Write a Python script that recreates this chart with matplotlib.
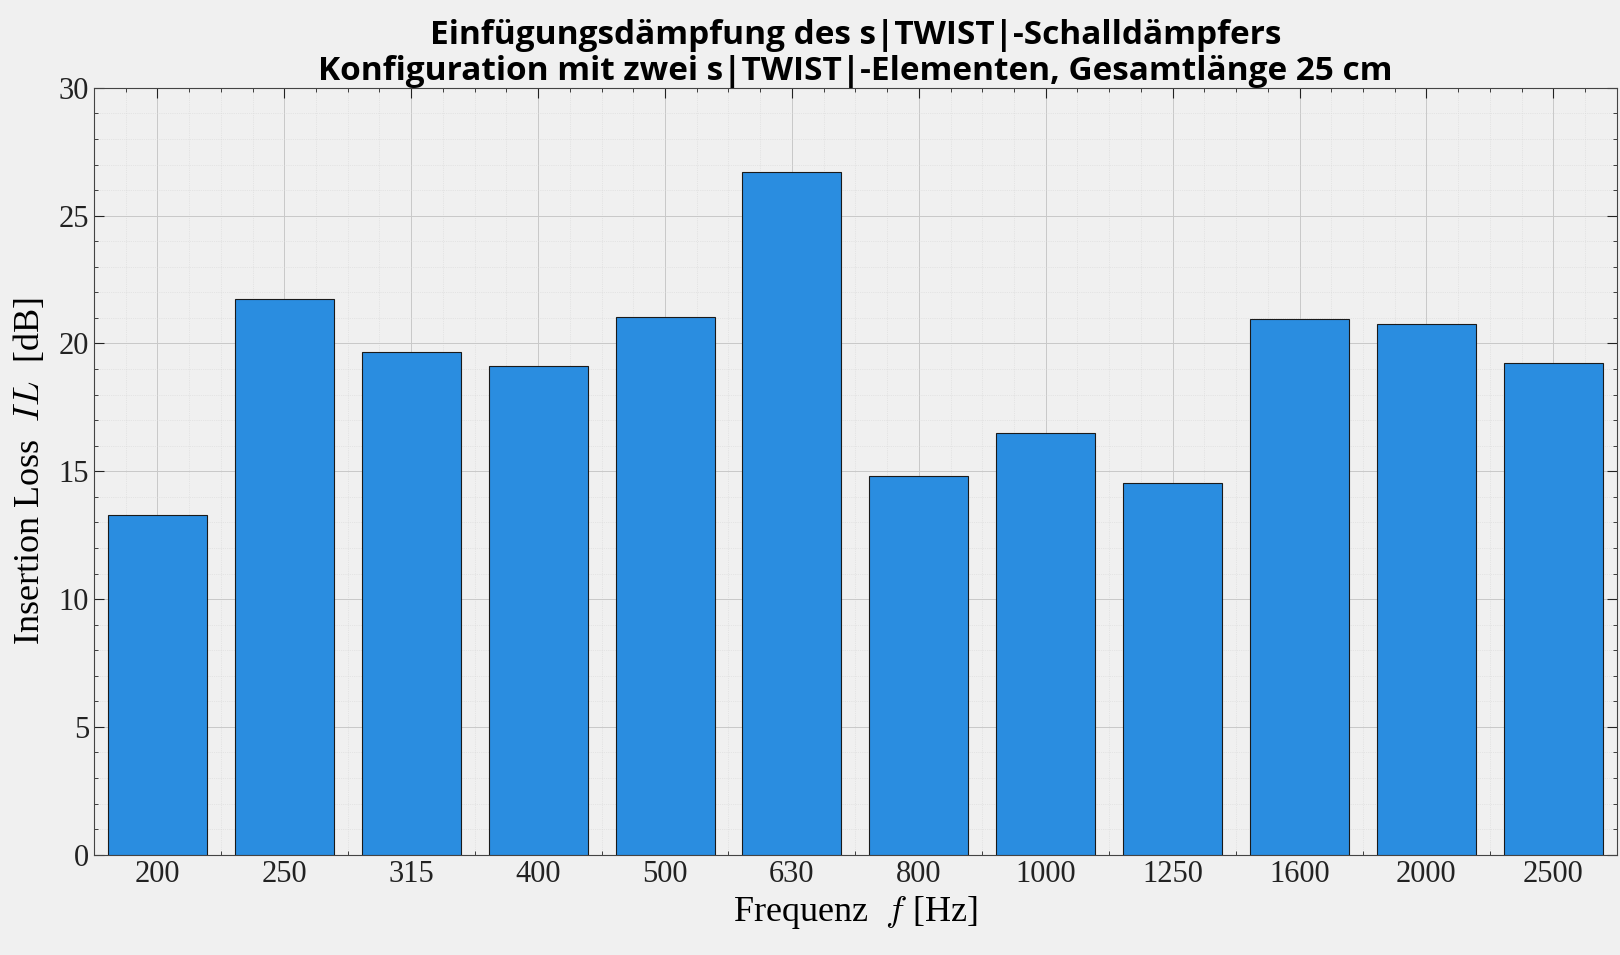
import matplotlib
matplotlib.use("Agg")
import matplotlib.pyplot as plt
from matplotlib.ticker import MultipleLocator

freqs = ["200","250","315","400","500","630","800","1000","1250","1600","2000","2500"]
il = [13.3, 21.75, 19.65, 19.1, 21.03, 26.7, 14.8, 16.5, 14.56, 20.95, 20.78, 19.25]

plt.rcParams['font.family'] = ['Liberation Serif', 'DejaVu Serif']
plt.rcParams['mathtext.fontset'] = 'cm'

fig = plt.figure(figsize=(16.2, 9.55), dpi=100, facecolor='#f0f0f0')
ax = fig.add_axes([0.058, 0.105, 0.94, 0.803], facecolor='#f0f0f0')
x = list(range(len(freqs)))
ax.bar(x, il, width=0.78, color='#2a8de0', edgecolor='#1a1a1a', linewidth=0.8, zorder=3)
ax.set_xlim(-0.5, 11.5)
ax.set_ylim(0, 30)
ax.set_xticks(x)
ax.set_xticklabels(freqs)
ax.yaxis.set_major_locator(MultipleLocator(5))
ax.yaxis.set_minor_locator(MultipleLocator(1))
ax.xaxis.set_minor_locator(MultipleLocator(0.25))
ax.grid(which='major', color='#c8c8c8', linewidth=0.7, zorder=0)
ax.grid(which='minor', color='#d8d8d8', linewidth=0.5, linestyle=':', zorder=0)
ax.tick_params(which='both', direction='in', top=True, right=True, labelsize=22, colors='#222222')
ax.tick_params(which='major', length=7)
ax.tick_params(which='minor', length=3)
for s in ax.spines.values():
    s.set_color('#444444'); s.set_linewidth(0.8)
ax.set_xlabel(r"Frequenz  $f$ [Hz]", fontsize=26, labelpad=4)
ax.set_ylabel(r"Insertion Loss  $IL$  [dB]", fontsize=26, labelpad=8)
ax.set_title("Einfügungsdämpfung des s|TWIST|-Schalldämpfers\nKonfiguration mit zwei s|TWIST|-Elementen, Gesamtlänge 25 cm",
             fontsize=24, fontweight='bold', family=['Open Sans', 'DejaVu Sans'], linespacing=1.1, pad=6)
fig.savefig("out.png", dpi=100, facecolor=fig.get_facecolor())
